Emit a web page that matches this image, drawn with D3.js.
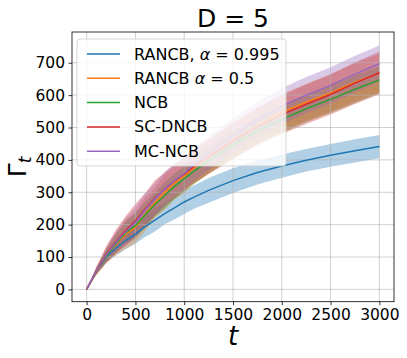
<!DOCTYPE html>
<html>
<head>
<meta charset="utf-8">
<script src="https://cdn.jsdelivr.net/npm/d3@7"></script>
<style>
  body { margin: 0; background: #fff; }
  svg { display: block; font-family: "DejaVu Sans", sans-serif; }
</style>
</head>
<body>
<script>
// time steps
var steps = [0, 100, 200, 300, 400, 500, 600, 700, 800, 900, 1000, 1100, 1250, 1500, 1750, 2000, 2250, 2500, 2750, 3000];

// mean curves
var rancb995 = [0, 57, 100, 127, 151, 171, 194, 214, 234, 252, 270, 285, 306, 336, 361, 381, 399, 414, 428, 441];
var rancb05  = [0, 55, 104, 140, 170, 192, 232, 268, 300, 328, 350, 375, 410, 460, 505, 547, 578, 607, 640, 668];
var ncb      = [0, 56, 102, 142, 175, 197, 230, 262, 290, 318, 342, 365, 398, 446, 490, 525, 558, 587, 618, 647];
var scdncb   = [0, 58, 108, 148, 182, 212, 248, 282, 310, 335, 356, 380, 410, 458, 503, 540, 572, 602, 637, 669];
var mcncb    = [0, 57, 106, 146, 178, 207, 245, 280, 310, 336, 358, 385, 420, 475, 525, 566, 600, 630, 665, 697];

// half width of the shaded bands
var sd995 = [0, 9, 16, 22, 27, 30, 32, 35, 33, 36, 37, 36, 38, 38, 37, 36, 35, 35, 36, 36];
var sd05  = [0, 11, 24, 34, 44, 48, 52, 47, 54, 50, 52, 49, 51, 53, 54, 56, 57, 58, 60, 60];
var sdNcb = [0, 10, 20, 28, 34, 38, 40, 37, 41, 40, 39, 40, 40, 41, 41, 42, 42, 42, 43, 42];
var sdSc  = [0, 12, 25, 36, 45, 52, 50, 55, 51, 53, 50, 52, 54, 56, 58, 60, 61, 62, 64, 66];
var sdMc  = [0, 11, 22, 33, 42, 47, 51, 49, 53, 50, 51, 50, 52, 53, 54, 55, 56, 56, 57, 56];

var labels = ["RANCB, α = 0.995", "RANCB α = 0.5", "NCB", "SC-DNCB", "MC-NCB"];
var colors = ["#1f77b4", "#ff7f0e", "#2ca02c", "#d62728", "#9467bd"];
var means = [rancb995, rancb05, ncb, scdncb, mcncb];
var sds = [sd995, sd05, sdNcb, sdSc, sdMc];

var xTicks = [0, 500, 1000, 1500, 2000, 2500, 3000];
var yTicks = [0, 100, 200, 300, 400, 500, 600, 700];

var W = 407, H = 358;
var pLeft = 72, pRight = 394, pTop = 32, pBottom = 301.7;

var svg = d3.select("body").append("svg")
    .attr("width", W)
    .attr("height", H);

var x = d3.scaleLinear().domain([-150, 3150]).range([pLeft, pRight]);
var y = d3.scaleLinear().domain([-38, 795]).range([pBottom, pTop]);

var series = means.map(function(m, i) {
  return steps.map(function(t, j) {
    return { t: t, v: m[j], lo: m[j] - sds[i][j], hi: m[j] + sds[i][j] };
  });
});

// bands first (matplotlib puts them under the grid)
var area = d3.area()
    .x(function(d) { return x(d.t); })
    .y0(function(d) { return y(d.lo); })
    .y1(function(d) { return y(d.hi); });

svg.selectAll(".band")
  .data(series)
  .enter()
  .append("path")
  .attr("class", "band")
  .attr("d", area)
  .attr("fill", function(d, i) { return colors[i]; })
  .attr("fill-opacity", 0.35);

// grid
svg.append("g")
  .selectAll("line")
  .data(xTicks)
  .enter()
  .append("line")
  .attr("x1", function(d) { return x(d); })
  .attr("x2", function(d) { return x(d); })
  .attr("y1", pTop)
  .attr("y2", pBottom)
  .attr("stroke", "#b0b0b0")
  .attr("stroke-opacity", 0.6)
  .attr("stroke-width", 1);

svg.append("g")
  .selectAll("line")
  .data(yTicks)
  .enter()
  .append("line")
  .attr("x1", pLeft)
  .attr("x2", pRight)
  .attr("y1", function(d) { return y(d); })
  .attr("y2", function(d) { return y(d); })
  .attr("stroke", "#b0b0b0")
  .attr("stroke-opacity", 0.6)
  .attr("stroke-width", 1);

// mean lines
var line = d3.line()
    .x(function(d) { return x(d.t); })
    .y(function(d) { return y(d.v); });

svg.selectAll(".curve")
  .data(series)
  .enter()
  .append("path")
  .attr("class", "curve")
  .attr("d", line)
  .attr("fill", "none")
  .attr("stroke", function(d, i) { return colors[i]; })
  .attr("stroke-width", 1.5);

// axes
var xAxis = svg.append("g")
  .attr("transform", "translate(0," + pBottom + ")")
  .call(d3.axisBottom(x).tickValues(xTicks).tickFormat(d3.format("d"))
    .tickSize(3.5).tickPadding(3.5).tickSizeOuter(0));
var yAxis = svg.append("g")
  .attr("transform", "translate(" + pLeft + ",0)")
  .call(d3.axisLeft(y).tickValues(yTicks).tickFormat(d3.format("d"))
    .tickSize(3.5).tickPadding(3.5).tickSizeOuter(0));

[xAxis, yAxis].forEach(function(a) {
  a.select(".domain").remove();
  a.selectAll("text")
    .attr("font-family", "DejaVu Sans")
    .attr("font-size", "15.5px")
    .attr("fill", "#000");
  a.selectAll(".tick line").attr("stroke", "#000").attr("stroke-width", 0.8);
});

// frame
svg.append("rect")
  .attr("x", pLeft)
  .attr("y", pTop)
  .attr("width", pRight - pLeft)
  .attr("height", pBottom - pTop)
  .attr("fill", "none")
  .attr("stroke", "#000")
  .attr("stroke-width", 0.8);

// title and axis labels
svg.append("text")
  .attr("x", (pLeft + pRight) / 2)
  .attr("y", 27)
  .attr("text-anchor", "middle")
  .attr("font-size", "25px")
  .text("D = 5");

svg.append("text")
  .attr("x", (pLeft + pRight) / 2)
  .attr("y", 345)
  .attr("text-anchor", "middle")
  .attr("font-size", "26px")
  .attr("font-style", "italic")
  .text("t");

var yl = svg.append("text")
  .attr("transform", "translate(26," + ((pTop + pBottom) / 2) + ") rotate(-90)")
  .attr("text-anchor", "middle")
  .attr("font-size", "25px");
yl.append("tspan").text("Γ");
yl.append("tspan")
  .attr("font-size", "17px")
  .attr("font-style", "italic")
  .attr("dy", 5)
  .text("t");

// legend
var lg = svg.append("g");
lg.append("rect")
  .attr("x", 77)
  .attr("y", 39)
  .attr("width", 209)
  .attr("height", 127)
  .attr("rx", 3)
  .attr("fill", "#fff")
  .attr("fill-opacity", 0.8)
  .attr("stroke", "#cccccc")
  .attr("stroke-opacity", 0.8);

var rows = lg.selectAll(".row")
  .data(labels)
  .enter()
  .append("g")
  .attr("transform", function(d, i) { return "translate(0," + (54 + i * 24.3) + ")"; });

rows.append("line")
  .attr("x1", 87)
  .attr("x2", 120)
  .attr("stroke", function(d, i) { return colors[i]; })
  .attr("stroke-width", 1.5);

rows.append("text")
  .attr("x", 134)
  .attr("y", 5.5)
  .attr("font-size", "16px")
  .each(function(d) {
    var t = d3.select(this);
    var k = d.indexOf("α");
    if (k < 0) { t.text(d); return; }
    t.append("tspan").text(d.slice(0, k));
    t.append("tspan").attr("font-style", "italic").text("α");
    t.append("tspan").text(d.slice(k + 1));
  });
</script>
</body>
</html>
